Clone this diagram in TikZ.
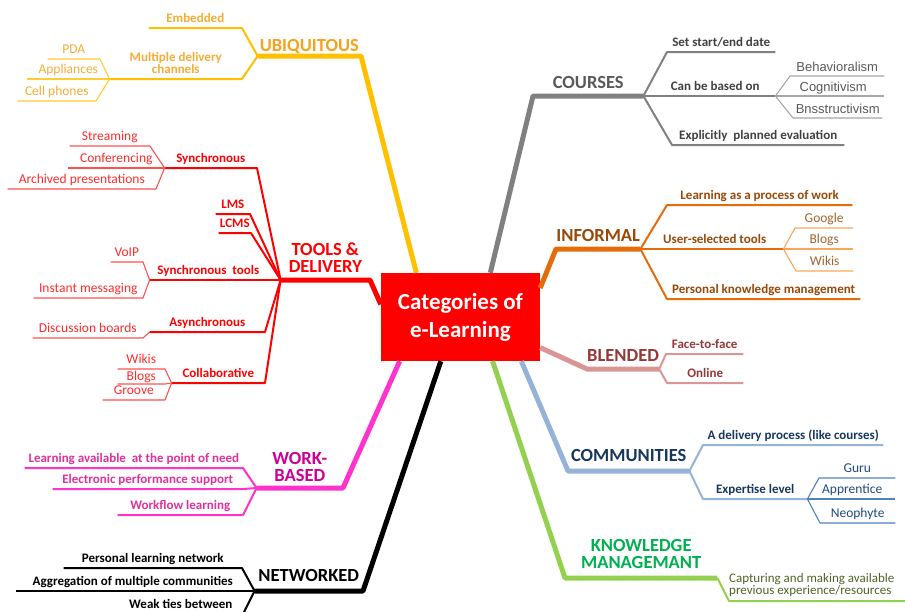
\documentclass[tikz,border=0pt]{standalone}
\usepackage{fontspec}
\setmainfont{Carlito}
\newfontfamily\arialfont{Liberation Sans}
\usetikzlibrary{positioning}
\definecolor{ubiline}{HTML}{FFC000}
\definecolor{ubitwig}{HTML}{FFCC33}
\definecolor{ubitext}{HTML}{F5A21C}
\definecolor{ubiitem}{HTML}{F6AC33}
\definecolor{toolsline}{HTML}{FF0000}
\definecolor{toolstwig}{HTML}{FF5050}
\definecolor{toolsleaf}{HTML}{FF2B2B}
\definecolor{workline}{HTML}{FF33CC}
\definecolor{worktext}{HTML}{CC0099}
\definecolor{workitem}{HTML}{E0309A}
\definecolor{courseline}{HTML}{808080}
\definecolor{coursetwig}{HTML}{A6A6A6}
\definecolor{coursetext}{HTML}{595959}
\definecolor{courseitem}{HTML}{404040}
\definecolor{informalline}{HTML}{E46C0A}
\definecolor{informaltwig}{HTML}{F9A65A}
\definecolor{informaltext}{HTML}{984807}
\definecolor{informalleaf}{HTML}{A0642C}
\definecolor{blendedline}{HTML}{D99694}
\definecolor{blendedtext}{HTML}{953735}
\definecolor{commline}{HTML}{95B3D7}
\definecolor{commtwig}{HTML}{4F81BD}
\definecolor{commtext}{HTML}{17375E}
\definecolor{commleaf}{HTML}{1F497D}
\definecolor{kmline}{HTML}{92D050}
\definecolor{kmtext}{HTML}{00B050}
\definecolor{kmleaf}{HTML}{4F6228}
\tikzset{
    cat/.style={font=\bfseries\fontsize{18.5}{17}\selectfont,align=center,inner xsep=0pt,inner ysep=7pt,text depth=0pt},
    topic/.style={font=\bfseries\fontsize{13}{12}\selectfont,align=center,inner xsep=0pt,inner ysep=5pt,text depth=0pt},
    leaf/.style={font=\fontsize{13.5}{12}\selectfont,align=center,inner xsep=0pt,inner ysep=5pt,text depth=0pt},
    theory/.style={font=\arialfont\fontsize{13}{13}\selectfont,text=coursetext,inner xsep=0pt,inner ysep=4pt,text depth=0pt},
    tol/.style={anchor=south east},
    tor/.style={anchor=south west},
    trunk/.style={line width=5pt,line join=round},
    branch/.style={line width=2pt,line join=round},
    twig/.style={line width=1.1pt,line join=round}
}

\begin{document}
\begin{tikzpicture}[x=1pt,y=-1pt]

                \useasboundingbox (0,0) rectangle (905,611);

                \node[fill=red,text=white,font=\bfseries\fontsize{23}{28}\selectfont,align=center,
                      minimum width=159pt,minimum height=88pt] (root) at (460.5,317) {Categories of\\e-Learning};

                % ubiquitous
                \node[cat,tol,minimum width=103pt,text=ubitext,inner ysep=4pt] (ubi) at (361,56) {UBIQUITOUS};
                \node[topic,tol,minimum width=93pt,text=ubiitem]  (embedded) at (242,28) {Embedded};
                \node[topic,tol,minimum width=132pt,text=ubiitem] (channels) at (242,79) {Multiple delivery\\channels};
                \node[leaf,tol,minimum width=52pt,text=ubiitem]   (pda) at (100,59) {PDA};
                \node[leaf,tol,minimum width=83pt,text=ubiitem]   (appliances) at (110,79) {Appliances};
                \node[leaf,tol,minimum width=78pt,text=ubiitem]   (phones) at (96,101) {Cell phones};
                \draw[trunk,ubiline]  (root.135) -- (ubi.south east) -- (ubi.south west);
                \draw[branch,ubiline] (ubi.south west) -- (embedded.south east) -- (embedded.south west);
                \draw[branch,ubiline] (ubi.south west) -- (channels.south east) -- (channels.south west);
                \draw[twig,ubitwig]   (channels.south west) -- (pda.south east) -- (pda.south west);
                \draw[twig,ubitwig]   (channels.south west) -- (appliances.south east) -- (appliances.south west);
                \draw[twig,ubitwig]   (channels.south west) -- (phones.south east) -- (phones.south west);

                % tools and delivery
                \node[cat,tol,minimum width=89pt,text=toolsline] (tools) at (370,280) {TOOLS \&\\DELIVERY};
                \node[topic,tol,minimum width=92pt,text=toolsline]  (sync) at (257,168) {Synchronous};
                \node[leaf,tol,minimum width=80pt,text=toolsleaf]   (streaming) at (150,146) {Streaming};
                \node[leaf,tol,minimum width=97pt,text=toolsleaf]   (conferencing) at (165,168) {Conferencing};
                \node[leaf,tol,minimum width=148pt,text=toolsleaf]  (archived) at (156,189) {Archived presentations};
                \node[topic,tol,minimum width=34pt,text=toolsline]  (lms) at (250,214) {LMS};
                \node[topic,tol,minimum width=32pt,text=toolsline]  (lcms) at (251,233) {LCMS};
                \node[topic,tol,minimum width=117pt,text=toolsline] (sync tools) at (267,280) {Synchronous~ tools};
                \node[leaf,tol,minimum width=32pt,text=toolsleaf]   (voip) at (143,262) {VoIP};
                \node[leaf,tol,minimum width=109pt,text=toolsleaf]  (messaging) at (143,298) {Instant messaging};
                \node[topic,tol,minimum width=115pt,text=toolsline] (async) at (265,332) {Asynchronous};
                \node[leaf,tol,minimum width=110pt,text=toolsleaf]  (boards) at (143,338) {Discussion boards};
                \node[topic,tol,minimum width=93pt,text=toolsline]  (collab) at (265,383) {Collaborative};
                \node[leaf,tol,minimum width=47pt,text=toolsleaf]   (tools wikis) at (165,369) {Wikis};
                \node[leaf,tol,minimum width=47pt,text=toolsleaf,inner ysep=3pt] (tools blogs) at (165,384) {Blogs};
                \node[leaf,tol,minimum width=62pt,text=toolsleaf]   (groove) at (165,400) {Groove};
                \draw[trunk,toolsline]  (root.171) -- (tools.south east) -- (tools.south west);
                \draw[branch,toolsline] (tools.south west) -- (sync.south east) -- (sync.south west);
                \draw[branch,toolsline] (tools.south west) -- (lms.south east) -- (lms.south west);
                \draw[branch,toolsline] (tools.south west) -- (lcms.south east) -- (lcms.south west);
                \draw[branch,toolsline] (tools.south west) -- (sync tools.south east) -- (sync tools.south west);
                \draw[branch,toolsline] (tools.south west) -- (async.south east) -- (async.south west);
                \draw[branch,toolsline] (tools.south west) -- (collab.south east) -- (collab.south west);
                \draw[twig,toolstwig]   (sync.south west) -- (streaming.south east) -- (streaming.south west);
                \draw[twig,toolstwig]   (sync.south west) -- (conferencing.south east) -- (conferencing.south west);
                \draw[twig,toolstwig]   (sync.south west) -- (archived.south east) -- (archived.south west);
                \draw[twig,toolstwig]   (sync tools.south west) -- (voip.south east) -- (voip.south west);
                \draw[twig,toolstwig]   (sync tools.south west) -- (messaging.south east) -- (messaging.south west);
                \draw[twig,toolstwig]   (async.south west) -- (boards.south east) -- (boards.south west);
                \draw[twig,toolstwig]   (collab.south west) -- (tools wikis.south east) -- (tools wikis.south west);
                \draw[twig,toolstwig]   (collab.south west) -- (tools blogs.south east) -- (tools blogs.south west);
                \draw[twig,toolstwig]   (collab.south west) -- (groove.south east) -- (groove.south west);

                % work-based
                \node[cat,tol,minimum width=86pt,text=worktext,inner ysep=6pt] (work) at (343,488) {WORK-\\BASED};
                \node[topic,tol,minimum width=218pt,text=workitem] (need) at (243,468) {Learning available~ at the point of need};
                \node[topic,tol,minimum width=190pt,text=workitem] (support) at (243,489) {Electronic performance support};
                \node[topic,tol,minimum width=125pt,text=workitem] (workflow) at (243,515) {Workflow learning};
                \draw[trunk,workline]  (root.216) -- (work.south east) -- (work.south west);
                \draw[branch,workline] (work.south west) -- (need.south east) -- (need.south west);
                \draw[branch,workline] (work.south west) -- (support.south east) -- (support.south west);
                \draw[branch,workline] (work.south west) -- (workflow.south east) -- (workflow.south west);

                % networked
                \node[cat,tol,minimum width=108pt,inner ysep=9pt] (net) at (363,591) {NETWORKED};
                \node[topic,tol,minimum width=178pt] (pln) at (242,568) {Personal learning network};
                \node[topic,tol,minimum width=234pt] (aggregation) at (250,591) {Aggregation of multiple communities};
                \node[topic,tol,minimum width=124pt] (weak ties) at (243,614) {Weak ties between};
                \draw[trunk]  (root.246) -- (net.south east) -- (net.south west);
                \draw[branch] (net.south west) -- (pln.south east) -- (pln.south west);
                \draw[branch] (net.south west) -- (aggregation.south east) -- (aggregation.south west);
                \draw[branch] (net.south west) -- (weak ties.south east) -- (weak ties.south west);

                % courses
                \node[cat,tor,minimum width=110pt,text=coursetext] (courses) at (533,96) {COURSES};
                \node[topic,tor,minimum width=108pt,text=courseitem] (dates) at (667,52) {Set start/end date};
                \node[topic,tor,minimum width=120pt,text=courseitem] (based on) at (655,96) {Can be based on};
                \node[theory,tor,minimum width=94pt]  (behavioralism) at (790,76) {Behavioralism};
                \node[theory,tor,minimum width=102pt] (cognitivism) at (782,96) {Cognitivism};
                \node[theory,tor,minimum width=89pt]  (constructivism) at (793,118) {Bnsstructivism};
                \node[topic,tor,minimum width=172pt,text=courseitem] (evaluation) at (672,145) {Explicitly~ planned evaluation};
                \draw[trunk,courseline]  (root.56) -- (courses.south west) -- (courses.south east);
                \draw[branch,courseline] (courses.south east) -- (dates.south west) -- (dates.south east);
                \draw[branch,courseline] (courses.south east) -- (based on.south west) -- (based on.south east);
                \draw[branch,courseline] (courses.south east) -- (evaluation.south west) -- (evaluation.south east);
                \draw[twig,coursetwig]   (based on.south east) -- (behavioralism.south west) -- (behavioralism.south east);
                \draw[twig,coursetwig]   (based on.south east) -- (cognitivism.south west) -- (cognitivism.south east);
                \draw[twig,coursetwig]   (based on.south east) -- (constructivism.south west) -- (constructivism.south east);

                % informal
                \node[cat,tor,minimum width=84pt,text=informaltext] (informal) at (556,249) {INFORMAL};
                \node[topic,tor,minimum width=185pt,text=informaltext] (process) at (667,205) {Learning as a process of work};
                \node[topic,tor,minimum width=137pt,text=informaltext] (user tools) at (646,249) {User-selected tools};
                \node[leaf,tor,minimum width=58pt,text=informalleaf] (google) at (795,228) {Google};
                \node[leaf,tor,minimum width=58pt,text=informalleaf] (informal blogs) at (795,249) {Blogs};
                \node[leaf,tor,minimum width=57pt,text=informalleaf] (informal wikis) at (796,271) {Wikis};
                \node[topic,tor,minimum width=193pt,text=informaltext] (pkm) at (667,299) {Personal knowledge management};
                \draw[trunk,informalline]  (root.20) -- (informal.south west) -- (informal.south east);
                \draw[branch,informalline] (informal.south east) -- (process.south west) -- (process.south east);
                \draw[branch,informalline] (informal.south east) -- (user tools.south west) -- (user tools.south east);
                \draw[branch,informalline] (informal.south east) -- (pkm.south west) -- (pkm.south east);
                \draw[twig,informaltwig]   (user tools.south east) -- (google.south west) -- (google.south east);
                \draw[twig,informaltwig]   (user tools.south east) -- (informal blogs.south west) -- (informal blogs.south east);
                \draw[twig,informaltwig]   (user tools.south east) -- (informal wikis.south west) -- (informal wikis.south east);

                % blended
                \node[cat,tor,minimum width=67pt,text=blendedtext] (blended) at (587,369) {BLENDED};
                \node[topic,tor,minimum width=77pt,text=blendedtext] (face) at (666,354) {Face-to-face};
                \node[topic,tor,minimum width=76pt,text=blendedtext] (online) at (667,383) {Online};
                \draw[trunk,blendedline]  (root.-21) -- (blended.south west) -- (blended.south east);
                \draw[branch,blendedline] (blended.south east) -- (face.south west) -- (face.south east);
                \draw[branch,blendedline] (blended.south east) -- (online.south west) -- (online.south east);

                % communities
                \node[cat,tor,minimum width=121pt,text=commtext,inner ysep=9pt] (communities) at (568,471) {COMMUNITIES};
                \node[topic,tor,minimum width=180pt,text=commtext] (delivery) at (703,445) {A delivery process (like courses)};
                \node[topic,tor,minimum width=104pt,text=commtext] (expertise) at (703,499) {Expertise level};
                \node[leaf,tor,minimum width=76pt,text=commleaf] (guru) at (819,478) {Guru};
                \node[leaf,tor,minimum width=86pt,text=commleaf] (apprentice) at (809,499) {Apprentice};
                \node[leaf,tor,minimum width=75pt,text=commleaf] (neophyte) at (820,523) {Neophyte};
                \draw[trunk,commline]  (root.-36) -- (communities.south west) -- (communities.south east);
                \draw[branch,commline] (communities.south east) -- (delivery.south west) -- (delivery.south east);
                \draw[branch,commline] (communities.south east) -- (expertise.south west) -- (expertise.south east);
                \draw[twig,commtwig]   (expertise.south east) -- (guru.south west) -- (guru.south east);
                \draw[twig,commtwig]   (expertise.south east) -- (apprentice.south west) -- (apprentice.south east);
                \draw[twig,commtwig]   (expertise.south east) -- (neophyte.south west) -- (neophyte.south east);

                % knowledge management
                \node[cat,tor,minimum width=152pt,text=kmtext,inner ysep=9pt] (km) at (565,578) {KNOWLEDGE\\MANAGEMANT};
                \node[leaf,tor,align=left,text=kmleaf,inner ysep=6pt,font=\fontsize{13}{12}\selectfont] (capture) at (729,601)
                    {Capturing and making available\\previous experience/resources};
                \coordinate (capture end) at (915,601);
                \draw[trunk,kmline]  (root.-54) -- (km.south west) -- (km.south east);
                \draw[branch,kmline] (km.south east) -- (capture.south west) -- (capture end);

\end{tikzpicture}
\end{document}
